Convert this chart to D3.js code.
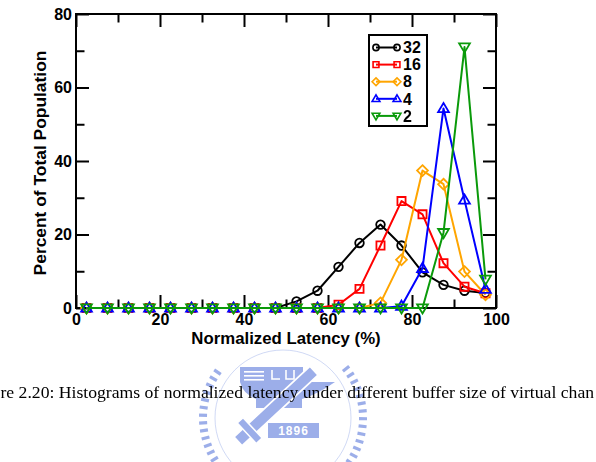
<!DOCTYPE html>
<html><head><meta charset="utf-8">
<script src="https://cdn.jsdelivr.net/npm/d3@7/dist/d3.min.js"></script>
<style>body{margin:0;background:#fff;overflow:hidden;} svg{display:block;}</style>
</head><body>
<svg id="chart" width="596" height="462"></svg>
<script>
// ---- data ----
const binCenters = [2.5,7.5,12.5,17.5,22.5,27.5,32.5,37.5,42.5,47.5,52.5,57.5,62.5,67.5,72.5,77.5,82.5,87.5,92.5,97.5];
const buf32 = [0,0,0,0,0,0,0,0,0,0, 1.8,4.7,11.2,17.7,22.7,17.0,9.7,6.3,4.7,4.1];
const buf16 = [0,0,0,0,0,0,0,0,0,0, 0,0,0.9,5.2,17.0,29.1,25.5,12.2,5.8,4.0];
const buf8  = [0,0,0,0,0,0,0,0,0,0, 0,0,0,0,1.4,13.1,37.4,33.7,9.9,3.6];
const buf4  = [0,0,0,0,0,0,0,0,0,0, 0,0,0,0,0,0.5,10.8,54.3,29.4,5.1];
const buf2  = [0,0,0,0,0,0,0,0,0,0, 0,0,0,0,0,0,0,20.5,71.0,7.8];
const seriesNames = ["32","16","8","4","2"];
const xTicks = [0,20,40,60,80,100];
const xMinor = [10,30,50,70,90];
const yTicks = [0,20,40,60,80];
const yMinor = [10,30,50,70];
const xTitle = "Normalized Latency (%)";
const yTitle = "Percent of Total Population";
const captionVisible = "re 2.20: Histograms of normalized latency under different buffer size of virtual chan";

// ---- setup ----
const svg = d3.select("#chart");
const L = 76, R = 496, T = 14, B = 308;
const x = d3.scaleLinear().domain([0,100]).range([L,R]);
const y = d3.scaleLinear().domain([0,80]).range([B,T]);

const colors = ["#000000","#ff0000","#ffa500","#0000ff","#0a9a0a"];
const valuesList = [buf32, buf16, buf8, buf4, buf2];
const series = seriesNames.map((n,i)=>({name:n, color:colors[i], values: binCenters.map((c,j)=>[c, valuesList[i][j]]), kind:i}));

function markerPath(kind, s){
  switch(kind){
    case 0: return d3.symbol(d3.symbolCircle, 58*s*s)();
    case 1: return d3.symbol(d3.symbolSquare, 66*s*s)();
    case 2: { const r=5.4*s; return `M0,${-r}L${r},0L0,${r}L${-r},0Z`; }
    case 3: { const h=9.2*s, w=5.4*s; return `M0,${-h*0.6}L${w},${h*0.4}L${-w},${h*0.4}Z`; }
    case 4: { const h=9.2*s, w=5.4*s; return `M0,${h*0.6}L${w},${-h*0.4}L${-w},${-h*0.4}Z`; }
  }
}

// ---- watermark ----
const wm = svg.append("g").attr("opacity",0.75);
const wmc = "#7b93e2";
const cx = 283, cy = 418, rr = 80;
const dashAngles = [];
for(let a=52; a<=308; a+=5.5){ if(a>150 && a<210) continue; dashAngles.push(a); }
wm.selectAll("rect.d").data(dashAngles).join("rect")
  .attr("x",-1.6).attr("y",-rr-4).attr("width",3.2).attr("height",8)
  .attr("fill",wmc)
  .attr("transform",d=>`translate(${cx},${cy}) rotate(${d})`);
wm.append("circle").attr("cx",cx).attr("cy",cy).attr("r",68).attr("fill","none").attr("stroke",wmc).attr("stroke-width",0.8).attr("opacity",0.6);
wm.append("path").attr("fill",wmc)
  .attr("d","M240,367 H303 V382 H335 Q318,394 302,399 V408 H256 V399 Q243,394 240,382 Z");
[371,375,379].forEach(yy=>wm.append("rect").attr("x",244).attr("y",yy).attr("width",20).attr("height",1.6).attr("fill","#fff"));
wm.append("path").attr("fill","none").attr("stroke","#fff").attr("stroke-width",1.6)
  .attr("d","M272,370 V379 H280 M286,370 V379 H294 V370");
wm.append("g").attr("transform","translate(276,406) rotate(-43)")
  .call(g=>{
    g.append("rect").attr("x",-52).attr("y",-6).attr("width",104).attr("height",12).attr("fill",wmc).attr("stroke","#fff").attr("stroke-width",1.8);
    g.append("rect").attr("x",-40).attr("y",-14).attr("width",8).attr("height",28).attr("fill",wmc).attr("stroke","#fff").attr("stroke-width",1.5);
  });
wm.append("rect").attr("x",268).attr("y",423).attr("width",51).attr("height",15).attr("fill",wmc);
wm.append("text").attr("x",293.5).attr("y",435).attr("text-anchor","middle")
  .attr("font-family","Liberation Sans, Arial, sans-serif").attr("font-weight","bold").attr("font-size",12)
  .attr("fill","#fff").attr("letter-spacing",1).text("1896");

// ---- axes ----
function styleAxis(g){
  g.select(".domain").remove();
  g.selectAll(".tick line").attr("stroke","#000").attr("stroke-width",2);
  g.selectAll(".tick text").attr("font-family","Liberation Sans, Arial, Helvetica, sans-serif")
    .attr("font-weight","bold").attr("font-size",16).attr("fill","#000");
}
svg.append("g").attr("transform",`translate(0,${B})`)
  .call(d3.axisBottom(x).tickValues(xTicks).tickSize(-13).tickPadding(5.3).tickFormat(d3.format("d"))).call(styleAxis);
svg.append("g").attr("transform",`translate(0,${B})`)
  .call(d3.axisBottom(x).tickValues(xMinor).tickSize(-8.5).tickFormat("")).call(styleAxis);
svg.append("g").attr("transform",`translate(0,${T})`)
  .call(d3.axisTop(x).tickValues(xTicks).tickSize(-13).tickFormat("")).call(styleAxis);
svg.append("g").attr("transform",`translate(0,${T})`)
  .call(d3.axisTop(x).tickValues(xMinor).tickSize(-8.5).tickFormat("")).call(styleAxis);
svg.append("g").attr("transform",`translate(${L},0)`)
  .call(d3.axisLeft(y).tickValues(yTicks).tickSize(-13).tickPadding(4).tickFormat(d3.format("d"))).call(styleAxis);
svg.append("g").attr("transform",`translate(${L},0)`)
  .call(d3.axisLeft(y).tickValues(yMinor).tickSize(-8.5).tickFormat("")).call(styleAxis);
svg.append("g").attr("transform",`translate(${R},0)`)
  .call(d3.axisRight(y).tickValues(yTicks).tickSize(-13).tickFormat("")).call(styleAxis);
svg.append("g").attr("transform",`translate(${R},0)`)
  .call(d3.axisRight(y).tickValues(yMinor).tickSize(-8.5).tickFormat("")).call(styleAxis);

svg.append("rect").attr("x",L).attr("y",T).attr("width",R-L).attr("height",B-T)
  .attr("fill","none").attr("stroke","#000").attr("stroke-width",2);

// ---- titles ----
svg.append("text").attr("x",(L+R)/2).attr("y",343.5).attr("text-anchor","middle")
  .attr("font-family","Liberation Sans, Arial, Helvetica, sans-serif").attr("font-weight","bold")
  .attr("font-size",16.8).text(xTitle);
svg.append("text").attr("transform",`translate(46,${(T+B)/2+2}) rotate(-90)`).attr("text-anchor","middle")
  .attr("font-family","Liberation Sans, Arial, Helvetica, sans-serif").attr("font-weight","bold")
  .attr("font-size",17.4).text(yTitle);

// ---- series ----
const line = d3.line().x(d=>x(d[0])).y(d=>y(d[1]));
series.forEach(s=>{
  const g = svg.append("g");
  g.append("path").datum(s.values).attr("d",line).attr("fill","none")
    .attr("stroke",s.color).attr("stroke-width",2).attr("stroke-linejoin","round");
  g.selectAll("path.m").data(s.values).join("path").attr("class","m")
    .attr("d",markerPath(s.kind,1)).attr("transform",d=>`translate(${x(d[0])},${y(d[1])})`)
    .attr("fill","none").attr("stroke",s.color).attr("stroke-width",1.8);
});

// ---- legend ----
const lg = svg.append("g");
lg.append("rect").attr("x",369).attr("y",35).attr("width",58).attr("height",91)
  .attr("fill","#fff").attr("stroke","#000").attr("stroke-width",2);
series.forEach((s,i)=>{
  const yy = 47.5 + i*17.1;
  lg.append("line").attr("x1",376).attr("x2",397).attr("y1",yy).attr("y2",yy).attr("stroke",s.color).attr("stroke-width",2);
  [376,397].forEach(xx=>lg.append("path").attr("d",markerPath(s.kind,0.72))
    .attr("transform",`translate(${xx},${yy})`).attr("fill","none").attr("stroke",s.color).attr("stroke-width",1.6));
  lg.append("text").attr("x",403).attr("y",yy).attr("dy","0.36em")
    .attr("font-family","Liberation Sans, Arial, Helvetica, sans-serif").attr("font-size",16)
    .attr("font-weight","bold").text(s.name);
});

// ---- caption (visible part only, as in the reference crop) ----
const cap = svg.append("text").attr("x",0.5).attr("y",398).attr("font-family","Liberation Serif, Times New Roman, serif")
  .attr("font-size",17).attr("fill","#000").text(captionVisible);
const visW = cap.node().getComputedTextLength();
cap.attr("font-size",17 * 594 / visW);
</script>
</body></html>
